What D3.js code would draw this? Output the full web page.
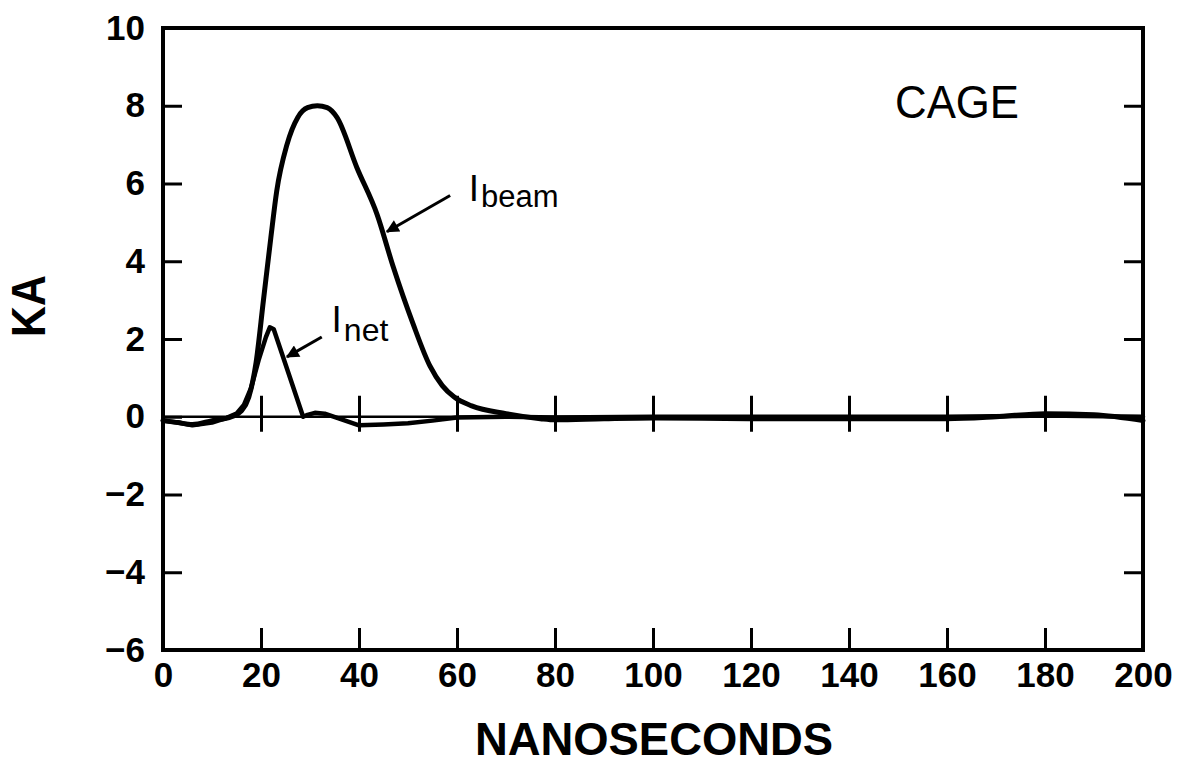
<!DOCTYPE html>
<html>
<head>
<meta charset="utf-8">
<script src="https://cdn.jsdelivr.net/npm/d3@7"></script>
<style>
  html, body { margin: 0; padding: 0; background: #fff; }
  svg { display: block; }
  text { font-family: "Liberation Sans", Arial, Helvetica, sans-serif; fill: #000; }
</style>
</head>
<body>
<svg id="chart" width="1181" height="766"></svg>
<script>
// ---- data ----
const xTickValues = [0, 20, 40, 60, 80, 100, 120, 140, 160, 180, 200];
const yTickValues = [-6, -4, -2, 0, 2, 4, 6, 8, 10];
const innerXTicks = [20, 40, 60, 80, 100, 120, 140, 160, 180];

const beamTime = [0, 3, 6, 10, 14, 16, 17.5, 19, 20.5, 22, 23.2, 25.3, 27.5, 29.5, 31.5, 33.5, 35.5, 39.6, 43.7, 47, 51, 54.5, 57, 59.5, 63, 70, 77, 80, 90, 100, 120, 140, 160, 170, 180, 190, 200];
const beamKA   = [-0.1, -0.15, -0.2, -0.1, 0, 0.15, 0.5, 1.4, 3.0, 4.6, 5.8, 7.0, 7.7, 7.95, 8.0, 7.95, 7.7, 6.4, 5.2, 3.85, 2.4, 1.3, 0.8, 0.5, 0.28, 0.08, -0.05, -0.08, -0.05, -0.03, -0.05, -0.05, -0.05, 0.0, 0.08, 0.05, -0.1];

const netTime = [0, 3, 6, 10, 13, 15, 16.5, 18, 19.5, 21, 21.8, 22.6, 28.6, 29.5, 31, 33, 36, 40, 45, 50, 55, 60, 70, 80, 100, 120, 140, 160, 180, 200];
const netKA   = [-0.1, -0.15, -0.22, -0.15, -0.03, 0.08, 0.3, 0.75, 1.45, 2.05, 2.3, 2.25, 0, 0.05, 0.1, 0.08, -0.05, -0.22, -0.2, -0.17, -0.1, -0.02, 0, -0.02, 0, 0, 0, 0, 0.03, 0];

const seriesLabels = ["beam", "net"];
const panelLabel = "CAGE";
const xTitle = "NANOSECONDS";
const yTitle = "KA";

// ---- drawing ----
const svg = d3.select("#chart");
svg.append("rect").attr("width", 1181).attr("height", 766).attr("fill", "#fff");

const x = d3.scaleLinear().domain([0, 200]).range([163, 1143]);
const y = d3.scaleLinear().domain([-6, 10]).range([650, 28]);

// zero line
svg.append("line")
  .attr("x1", x(0)).attr("x2", x(200))
  .attr("y1", y(0)).attr("y2", y(0))
  .attr("stroke", "#000").attr("stroke-width", 2.5);

// bottom axis (ticks inward, labels below)
const gB = svg.append("g").attr("transform", `translate(0,${y(-6)})`)
  .call(d3.axisBottom(x).tickValues(xTickValues).tickSize(-22).tickPadding(12).tickFormat(d3.format("d")));
// left axis
const gL = svg.append("g").attr("transform", `translate(${x(0)},0)`)
  .call(d3.axisLeft(y).tickValues(yTickValues).tickSize(-19).tickPadding(18).tickFormat(d3.format("d")));
// right axis
const gR = svg.append("g").attr("transform", `translate(${x(200)},0)`)
  .call(d3.axisRight(y).tickValues(yTickValues).tickSize(-19).tickFormat(""));
// zero-line crossing ticks
const gZ = svg.append("g").attr("transform", `translate(0,${y(0) + 15})`)
  .call(d3.axisBottom(x).tickValues(innerXTicks).tickSize(-36).tickFormat(""));
gZ.select(".domain").remove();

[gB, gL, gR].forEach(g => g.select(".domain").remove());
[gB, gL, gR, gZ].forEach(g => g.selectAll(".tick line").attr("stroke", "#000").attr("stroke-width", 3));
[gB, gL].forEach(g => g.selectAll(".tick text")
  .attr("font-family", "'Liberation Sans', Arial, sans-serif")
  .attr("font-size", 35).attr("font-weight", "bold").attr("fill", "#000"));

// frame
svg.append("rect")
  .attr("x", x(0)).attr("y", y(10))
  .attr("width", x(200) - x(0)).attr("height", y(-6) - y(10))
  .attr("fill", "none").attr("stroke", "#000").attr("stroke-width", 4);

// curves
const beamData = beamTime.map((t, i) => [t, beamKA[i]]);
const netData = netTime.map((t, i) => [t, netKA[i]]);

svg.append("path").datum(beamData)
  .attr("d", d3.line().x(d => x(d[0])).y(d => y(d[1])).curve(d3.curveMonotoneX))
  .attr("fill", "none").attr("stroke", "#000").attr("stroke-width", 5)
  .attr("stroke-linejoin", "round").attr("stroke-linecap", "round");

svg.append("path").datum(netData)
  .attr("d", d3.line().x(d => x(d[0])).y(d => y(d[1])).curve(d3.curveLinear))
  .attr("fill", "none").attr("stroke", "#000").attr("stroke-width", 4.5)
  .attr("stroke-linejoin", "round").attr("stroke-linecap", "round");

// arrows
const defs = svg.append("defs");
defs.append("marker").attr("id", "arrow")
  .attr("viewBox", "0 0 10 10").attr("refX", 9).attr("refY", 5)
  .attr("markerUnits", "userSpaceOnUse")
  .attr("markerWidth", 20).attr("markerHeight", 13)
  .attr("orient", "auto")
  .append("path").attr("d", "M0,0 L10,5 L0,10 Z").attr("fill", "#000");

function arrow(t0, v0, t1, v1) {
  svg.append("line")
    .attr("x1", x(t0)).attr("y1", y(v0)).attr("x2", x(t1)).attr("y2", y(v1))
    .attr("stroke", "#000").attr("stroke-width", 3)
    .attr("marker-end", "url(#arrow)");
}
arrow(58.6, 5.69, 45.7, 4.76);
arrow(32.4, 2.05, 25.3, 1.54);

// labels
function currentLabel(t, v, sub, subSize, shift) {
  const txt = svg.append("text").attr("x", x(t)).attr("y", y(v))
    .attr("font-size", 37);
  txt.append("tspan").text("I");
  txt.append("tspan").attr("dx", 2).attr("dy", shift).attr("font-size", subSize).text(sub);
}
currentLabel(62.4, 5.55, seriesLabels[0], 31, 6);
currentLabel(34.4, 2.17, seriesLabels[1], 32, 9);

svg.append("text").attr("x", x(149.4)).attr("y", y(7.68))
  .attr("font-size", 46).attr("textLength", 124).attr("lengthAdjust", "spacingAndGlyphs")
  .text(panelLabel);

svg.append("text").attr("x", 475).attr("y", 755)
  .attr("font-size", 47).attr("font-weight", "bold")
  .attr("textLength", 358).attr("lengthAdjust", "spacingAndGlyphs").text(xTitle);

svg.append("text")
  .attr("transform", "translate(45,337) rotate(-90)")
  .attr("font-size", 49).attr("font-weight", "bold")
  .attr("textLength", 62).attr("lengthAdjust", "spacingAndGlyphs")
  .text(yTitle);
</script>
</body>
</html>
